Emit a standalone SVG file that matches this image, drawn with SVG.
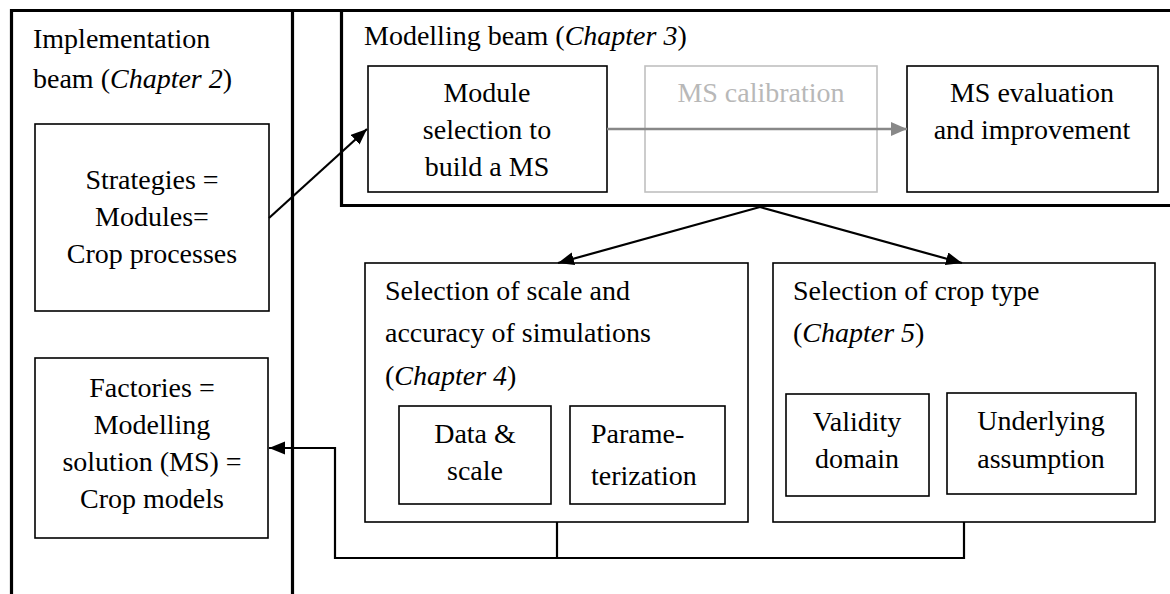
<svg xmlns="http://www.w3.org/2000/svg" width="1170" height="594" viewBox="0 0 1170 594">
<style>
text{font-family:"Liberation Serif","DejaVu Serif",serif;font-size:28px;fill:#000}
.c{text-anchor:middle}
.i{font-style:italic}
.box{fill:#fff;stroke:#000;stroke-width:1.6}
.gbox{fill:none;stroke:#c0c0c0;stroke-width:1.6}
.frame{fill:none;stroke:#000;stroke-width:3.2}
.con{fill:none;stroke:#000;stroke-width:2.2}
.gray{fill:#b8b8b8}
</style>
<defs>
<marker id="ah" markerUnits="userSpaceOnUse" markerWidth="18" markerHeight="14" refX="16" refY="6.5" orient="auto">
<path d="M0,0 L16,6.5 L0,13 z" fill="#000"/>
</marker>
<marker id="ahg" markerUnits="userSpaceOnUse" markerWidth="18" markerHeight="16" refX="16" refY="7" orient="auto">
<path d="M0,0 L16,7 L0,14 z" fill="#888"/>
</marker>
</defs>

<g id="implementation-beam">
<path class="frame" d="M11.5,600 V10.5 H1175"/>
<path class="frame" d="M292.5,10.5 V600"/>
<text x="33" y="48">Implementation</text>
<text x="33" y="88">beam (<tspan class="i">Chapter 2</tspan>)</text>
</g>

<g id="modelling-beam">
<path class="frame" d="M1175,205.5 H341.5 V10.5"/>
<text x="364" y="45">Modelling beam (<tspan class="i">Chapter 3</tspan>)</text>
</g>

<g id="strategies">
<rect class="box" x="35" y="124" width="234" height="187"/>
<text class="c" x="152" y="189">Strategies =</text>
<text class="c" x="152" y="226">Modules=</text>
<text class="c" x="152" y="263">Crop processes</text>
</g>

<g id="factories">
<rect class="box" x="35" y="358" width="233" height="180"/>
<text class="c" x="152" y="397">Factories =</text>
<text class="c" x="152" y="434">Modelling</text>
<text class="c" x="152" y="471">solution (MS) =</text>
<text class="c" x="152" y="508">Crop models</text>
</g>

<g id="module-selection">
<rect class="box" x="368" y="66" width="239" height="126"/>
<text class="c" x="487" y="102">Module</text>
<text class="c" x="487" y="139">selection to</text>
<text class="c" x="487" y="176">build a MS</text>
</g>

<g id="ms-calibration">
<rect class="gbox" x="645" y="66" width="232" height="126"/>
<text class="c gray" x="761" y="102">MS calibration</text>
</g>

<g id="ms-evaluation">
<rect class="box" x="907" y="66" width="251" height="126"/>
<text class="c" x="1032" y="102">MS evaluation</text>
<text class="c" x="1032" y="139">and improvement</text>
</g>

<g id="selection-scale">
<rect class="box" x="365" y="263" width="383" height="259"/>
<text x="385" y="300">Selection of scale and</text>
<text x="385" y="342">accuracy of simulations</text>
<text x="385" y="385">(<tspan class="i">Chapter 4</tspan>)</text>
</g>

<g id="data-scale">
<rect class="box" x="399" y="406" width="152" height="98"/>
<text class="c" x="475" y="443">Data &amp;</text>
<text class="c" x="475" y="480">scale</text>
</g>

<g id="parameterization">
<rect class="box" x="570" y="406" width="155" height="98"/>
<text x="591" y="443">Parame-</text>
<text x="591" y="485">terization</text>
</g>

<g id="selection-crop-type">
<rect class="box" x="773" y="263" width="382" height="259"/>
<text x="793" y="300">Selection of crop type</text>
<text x="793" y="342">(<tspan class="i">Chapter 5</tspan>)</text>
</g>

<g id="validity-domain">
<rect class="box" x="786" y="394" width="143" height="102"/>
<text class="c" x="857" y="431">Validity</text>
<text class="c" x="857" y="468">domain</text>
</g>

<g id="underlying-assumption">
<rect class="box" x="947" y="393" width="189" height="101"/>
<text class="c" x="1041" y="430">Underlying</text>
<text class="c" x="1041" y="468">assumption</text>
</g>

<g id="connectors">
<line class="con" x1="269" y1="218" x2="367" y2="129" marker-end="url(#ah)"/>
<line class="con" x1="607" y1="129" x2="907" y2="129" style="stroke:#888;stroke-width:2.6" marker-end="url(#ahg)"/>
<line class="con" x1="760" y1="207" x2="558" y2="263" marker-end="url(#ah)"/>
<line class="con" x1="760" y1="207" x2="962" y2="263" marker-end="url(#ah)"/>
<path class="con" d="M557,522 V558"/>
<path class="con" d="M964,522 V558 H335 V448 H269" marker-end="url(#ah)"/>
</g>
</svg>
